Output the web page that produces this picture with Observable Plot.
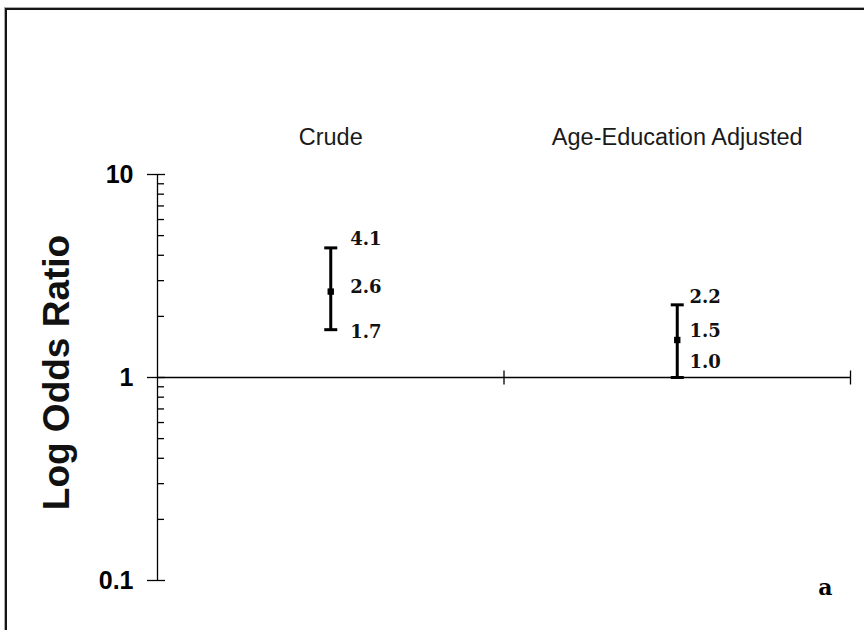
<!DOCTYPE html>
<html>
<head>
<meta charset="utf-8">
<script src="https://cdn.jsdelivr.net/npm/d3@7"></script>
<script src="https://cdn.jsdelivr.net/npm/@observablehq/plot@0.6"></script>
<style>
  html, body { margin: 0; padding: 0; background: #fff; }
  #wrap { position: relative; width: 864px; height: 630px; overflow: hidden; background: #fff; }
  #border { position: absolute; left: 5px; top: 8px; width: 900px; height: 700px;
            border: 2px solid #151515; box-shadow: -1px -1px 0 #aaa; }
  #chart { position: absolute; left: 0; top: 0; }
</style>
</head>
<body>
<div id="wrap"><div id="border"></div><div id="chart"></div></div>
<script>
// Data
const categories = ["Crude", "Age-Education Adjusted"];
const catPos = [0.5, 1.5];            // centre of each category band on x (0..2)
const estimate = [2.65, 1.53];        // point estimate (square marker)
const lower = [1.72, 1.0];            // lower CI
const upper = [4.35, 2.28];           // upper CI
const labelTop = ["4.1", "2.2"];
const labelMid = ["2.6", "1.5"];
const labelLow = ["1.7", "1.0"];
// where each value label sits
const labelX = [0.556, 1.535];
const labelTopY = [4.78, 2.48];
const labelMidY = [2.78, 1.69];
const labelLowY = [1.67, 1.19];

const yMajor = [0.1, 1, 10];
const yMajorText = ["0.1", "1", "10"];
const yMinor = [0.2, 0.3, 0.4, 0.5, 0.6, 0.7, 0.8, 0.9, 2, 3, 4, 5, 6, 7, 8, 9];
const xBoundaries = [1, 2];

const rows = categories.map((c, i) => ({
  cat: c, x: catPos[i], est: estimate[i], lo: lower[i], hi: upper[i]
}));
const labels = [];
categories.forEach((c, i) => {
  labels.push({x: labelX[i], y: labelTopY[i], t: labelTop[i]});
  labels.push({x: labelX[i], y: labelMidY[i], t: labelMid[i]});
  labels.push({x: labelX[i], y: labelLowY[i], t: labelLow[i]});
});

const hbar = { draw(ctx, size) { const r = Math.sqrt(size / Math.PI); ctx.moveTo(-r, 0); ctx.lineTo(r, 0); } };
const vbar = { draw(ctx, size) { const r = Math.sqrt(size / Math.PI); ctx.moveTo(0, -r); ctx.lineTo(0, r); } };

const chart = Plot.plot({
  width: 864,
  height: 630,
  marginLeft: 157,
  marginRight: 14,
  marginTop: 174,
  marginBottom: 50,
  style: { background: "transparent", color: "#000", overflow: "visible" },
  x: { domain: [0, 2], axis: null },
  y: { type: "log", domain: [0.1, 10], axis: null },
  marks: [
    // category labels on top
    Plot.axisX({
      anchor: "top", ticks: catPos, tickSize: 0, tickPadding: 30,
      tickFormat: (d) => categories[catPos.indexOf(d)],
      fontSize: 23.5, fontFamily: "Liberation Sans, Arial, sans-serif", label: null, fill: "#1a1a1a"
    }),
    // y axis: major ticks with labels
    Plot.axisY({
      ticks: yMajor, tickSize: 10, tickPadding: 14, label: null,
      tickFormat: (d) => yMajorText[yMajor.indexOf(d)],
      fontSize: 25, fontWeight: "bold", fontFamily: "Liberation Sans, Arial, sans-serif",
      strokeWidth: 1.3
    }),
    Plot.axisY({ ticks: yMajor, tickSize: -8, text: null, label: null, strokeWidth: 1.3 }),
    Plot.axisY({ ticks: yMinor, tickSize: -7, text: null, label: null, strokeWidth: 1.3 }),
    // axis line
    Plot.ruleX([0], { strokeWidth: 1.3 }),
    // reference line at OR = 1
    Plot.ruleY([1], { strokeWidth: 1.3 }),
    // category boundary ticks on the reference line
    Plot.dot(xBoundaries, { x: (d) => d, y: () => 1, symbol: vbar, r: 7, stroke: "#000", strokeWidth: 1.3, fill: "none" }),
    // confidence intervals
    Plot.ruleX(rows, { x: "x", y1: "lo", y2: "hi", stroke: "#000", strokeWidth: 3 }),
    Plot.dot(rows, { x: "x", y: "hi", symbol: hbar, r: 6.5, stroke: "#000", strokeWidth: 3 }),
    Plot.dot(rows, { x: "x", y: "lo", symbol: hbar, r: 6.5, stroke: "#000", strokeWidth: 3 }),
    Plot.dot(rows, { x: "x", y: "est", symbol: "square", r: 3.6, fill: "#000", stroke: "none" }),
    // value labels
    Plot.text(labels, {
      x: "x", y: "y", text: "t", textAnchor: "start",
      fontSize: 18, fontWeight: "bold", fontFamily: "DejaVu Serif, serif", fill: "#111",
      style: "letter-spacing:1.5px"
    }),
    // y title
    Plot.text(["Log Odds Ratio"], {
      frameAnchor: "left", textAnchor: "middle", rotate: -90, dx: -100, dy: -5,
      fontSize: 37, fontWeight: "bold", fontFamily: "Liberation Sans, Arial, sans-serif", fill: "#111"
    }),
    // panel letter
    Plot.text(["a"], {
      frameAnchor: "bottom-right", dx: -18, dy: 14,
      fontSize: 22, fontWeight: "bold", fontFamily: "DejaVu Serif, serif", fill: "#000"
    })
  ]
});
document.getElementById("chart").appendChild(chart);
</script>
</body>
</html>
